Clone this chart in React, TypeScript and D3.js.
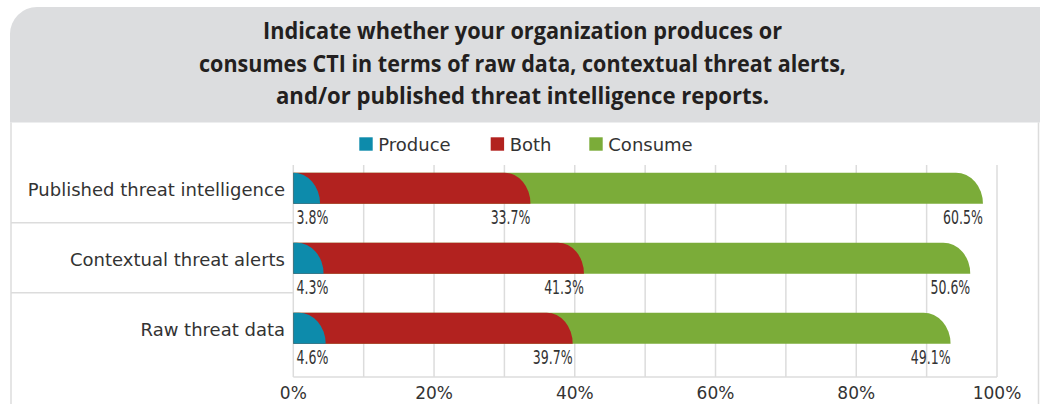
import React from "react";
import * as d3 from "d3";

const categories = ["Published threat intelligence", "Contextual threat alerts", "Raw threat data"];
const produce = [3.8, 4.3, 4.6];
const both = [33.7, 41.3, 39.7];
const consume = [60.5, 50.6, 49.1];
const seriesNames = ["Produce", "Both", "Consume"];
const seriesColors = ["#0d8bab", "#b2221f", "#7bac39"];
const xTicks = [0, 20, 40, 60, 80, 100];
const gridTicks = [0, 10, 20, 30, 40, 50, 60, 70, 80, 90, 100];
const titleLines = [
  "Indicate whether your organization produces or",
  "consumes CTI in terms of raw data, contextual threat alerts,",
  "and/or published threat intelligence reports.",
];
const titleWidths = [519, 647, 493];

const W = 1045;
const H = 404;
const sans = "'DejaVu Sans', sans-serif";
const titleFont = "'Open Sans', sans-serif";
const textColor = "#333333";
const gridColor = "#dcdcdc";

function cornerPath(x0: number, x1: number, y: number, h: number, r: number) {
  const rx = Math.min(r, x1 - x0);
  return `M${x0},${y}H${x1 - rx}A${rx},${h} 0 0 1 ${x1},${y + h}H${x0}Z`;
}

function CondLabel({ x, y, anchor, children }: { x: number; y: number; anchor: string; children: React.ReactNode }) {
  return (
    <text
      transform={`translate(${x},${y}) scale(0.66,1)`}
      textAnchor={anchor}
      fontFamily={sans}
      fontSize={19}
      fill={textColor}
    >
      {children}
    </text>
  );
}

export default function App() {
  const x = d3.scaleLinear().domain([0, 100]).range([293.3, 997]);
  const y = d3.scaleBand<string>().domain(categories).range([152.7, 362.7]).paddingInner(0);
  const barOffset = 20;
  const barH = 31;
  const gridTop = 165;
  const gridBottom = 377;

  return (
    <svg width={W} height={H} style={{ position: "absolute", left: 0, top: 0, background: "#fff" }}>
      {/* header */}
      <path d={`M10,${7 + 27}A27,27 0 0 1 37,7H1040V122.5H10Z`} fill="#dcdddf" />
      {titleLines.map((t, i) => (
        <text
          key={i}
          x={522.5}
          y={39.3 + i * 32.5}
          textAnchor="middle"
          fontFamily={titleFont}
          fontWeight="bold"
          fontSize={23}
          fill="#231f20"
          textLength={titleWidths[i]}
          lengthAdjust="spacingAndGlyphs"
        >
          {t}
        </text>
      ))}
      {/* panel borders */}
      <line x1={11} x2={11} y1={122.5} y2={H} stroke={gridColor} strokeWidth={1.5} />
      <line x1={1038.5} x2={1038.5} y1={122.5} y2={H} stroke={gridColor} strokeWidth={1.5} />

      {/* legend */}
      {seriesNames.map((s, i) => {
        const lx = [359.3, 490.7, 589.3][i];
        return (
          <g key={s}>
            <rect x={lx} y={137.3} width={13.4} height={13.4} fill={seriesColors[i]} />
            <text x={lx + 19} y={150.5} fontFamily={sans} fontSize={18} fill={textColor}>
              {s}
            </text>
          </g>
        );
      })}

      {/* gridlines */}
      {gridTicks.map((t) => (
        <line key={t} x1={x(t)} x2={x(t)} y1={gridTop} y2={gridBottom} stroke={gridColor} strokeWidth={1.5} />
      ))}
      <line x1={x(0)} x2={x(100)} y1={gridBottom} y2={gridBottom} stroke={gridColor} strokeWidth={1.5} />

      {/* separators */}
      {categories.slice(1).map((c) => (
        <line key={c} x1={11} x2={x(0)} y1={y(c)!} y2={y(c)!} stroke={gridColor} strokeWidth={1.5} />
      ))}

      {/* bars */}
      {categories.map((c, i) => {
        const top = y(c)! + barOffset;
        const total = produce[i] + both[i] + consume[i];
        const labelY = top + barH + 20.5;
        return (
          <g key={c}>
            <text
              x={x(0) - 8.3}
              y={top + barH / 2 + 7.5}
              textAnchor="end"
              fontFamily={sans}
              fontSize={18}
              fill={textColor}
            >
              {c}
            </text>
            <path d={cornerPath(x(0), x(total), top, barH, 27)} fill={seriesColors[2]} />
            <path d={cornerPath(x(0), x(both[i]), top, barH, 26)} fill={seriesColors[1]} />
            <path d={cornerPath(x(0), x(produce[i]), top, barH, 27)} fill={seriesColors[0]} />
            <CondLabel x={x(0) + 3.2} y={labelY} anchor="start">
              {produce[i].toFixed(1)}%
            </CondLabel>
            <CondLabel x={x(both[i])} y={labelY} anchor="end">
              {both[i].toFixed(1)}%
            </CondLabel>
            <CondLabel x={x(total)} y={labelY} anchor="end">
              {consume[i].toFixed(1)}%
            </CondLabel>
          </g>
        );
      })}

      {/* axis labels */}
      {xTicks.map((t) => (
        <text key={t} x={x(t)} y={398.5} textAnchor="middle" fontFamily={sans} fontSize={17} fill={textColor}>
          {t}%
        </text>
      ))}
    </svg>
  );
}
